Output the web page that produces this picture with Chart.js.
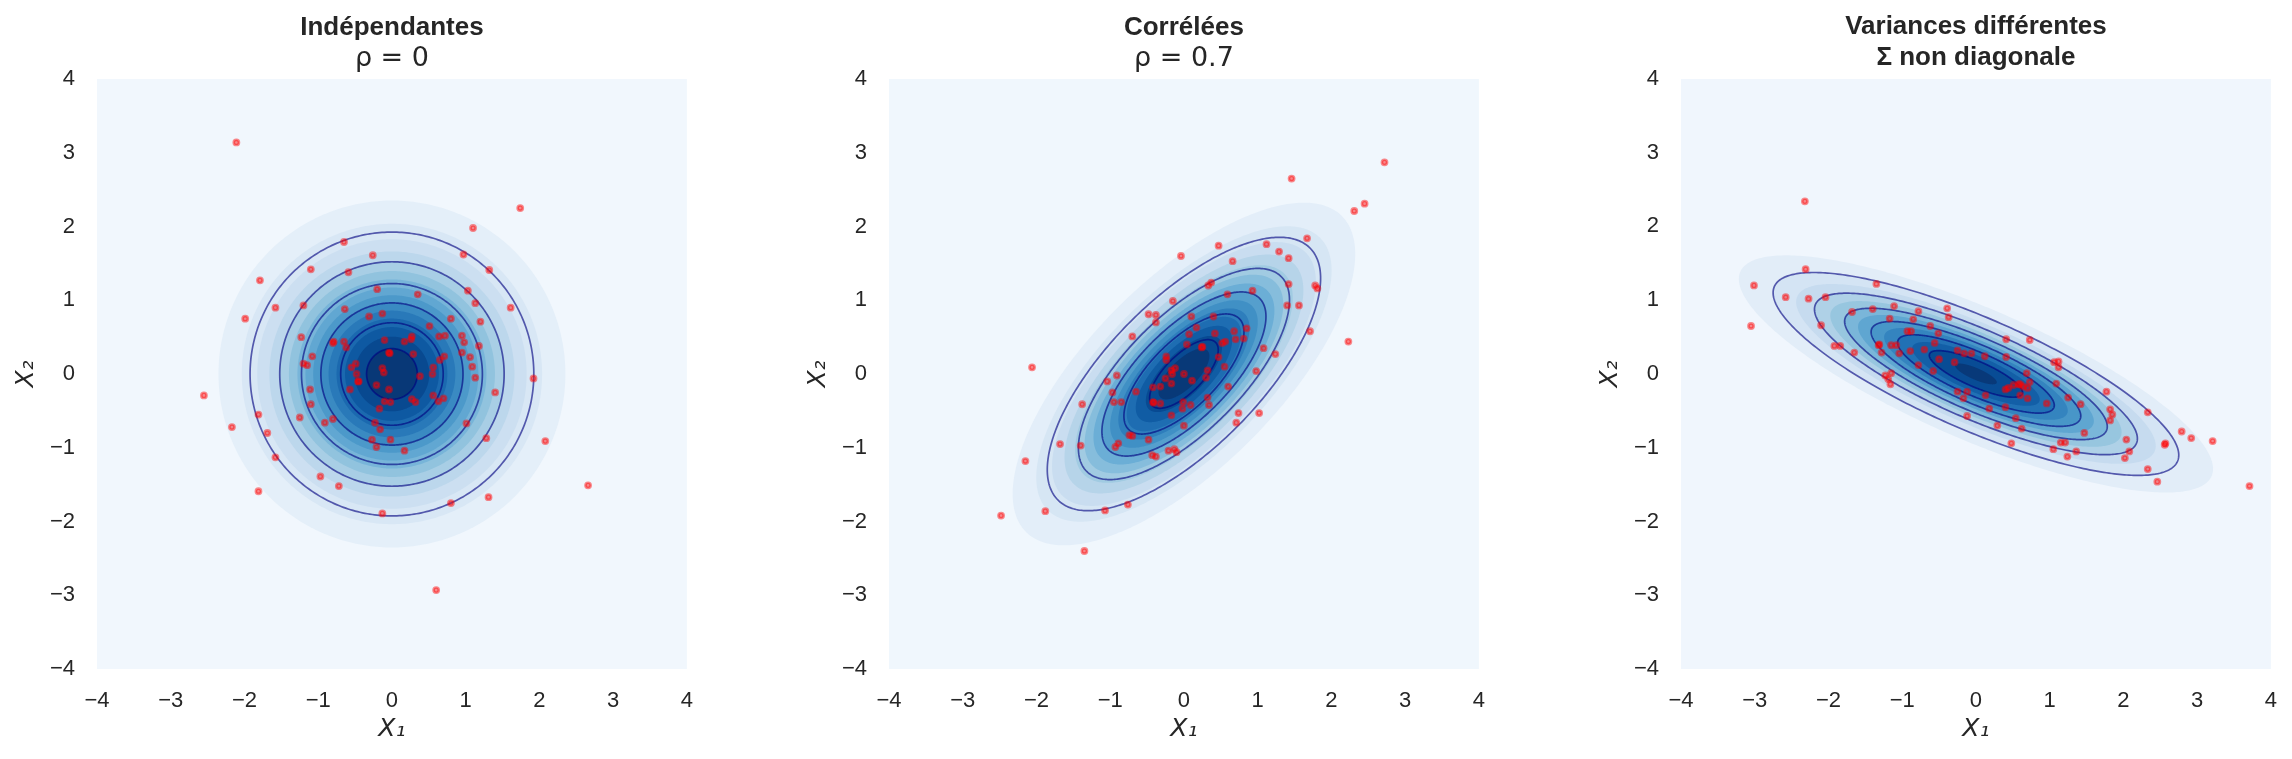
<!DOCTYPE html>
<html>
<head>
<meta charset="utf-8">
<script src="https://cdn.jsdelivr.net/npm/chart.js@4/dist/chart.umd.min.js"></script>
<style>
  body { margin: 0; background: #fff; width: 2292px; height: 759px; position: relative; overflow: hidden; }
  canvas { position: absolute; top: 0; }
</style>
</head>
<body>
<canvas id="c0" width="699" height="759"></canvas>
<canvas id="c1" width="699" height="759"></canvas>
<canvas id="c2" width="699" height="759"></canvas>
<script>
// panel texts
const titles = ['Indépendantes', 'Corrélées', ['Variances différentes', 'Σ non diagonale']];
const subtitles = ['ρ = 0', 'ρ = 0.7', ''];
const tickValues = [-4, -3, -2, -1, 0, 1, 2, 3, 4];

// gaussian parameters of each panel
const means = [[0, 0], [0, 0], [0, 0]];
const covs = [
  [[1, 0], [0, 1]],
  [[1, 0.7], [0.7, 1]],
  [[2, -0.8], [-0.8, 0.5]]
];
// spacing of the filled bands and of the contour lines
const fillSteps = [0.01, 0.015, 0.02];
const lineSteps = [0.025, 0.04, 0.04];

// samples
const indepPts = [[1.74,2.25],[1.10,1.98],[-0.65,1.79],[-0.26,1.61],[0.97,1.62],[1.32,1.41],[-1.10,1.42],[-0.59,1.38],[-1.79,1.27],[1.03,1.13],[-0.20,1.15],[0.35,1.08],[1.13,0.96],[1.61,0.90],[-1.58,0.90],[-1.99,0.75],[-1.20,0.93],[-0.64,0.88],[-0.31,0.78],[-0.13,0.82],[0.80,0.75],[1.20,0.71],[0.51,0.65],[0.64,0.51],[0.72,0.52],[0.27,0.51],[0.26,0.47],[0.17,0.44],[-0.10,0.46],[0.95,0.52],[0.98,0.43],[1.18,0.38],[0.95,0.29],[1.06,0.23],[1.09,0.10],[1.13,-0.05],[0.71,0.24],[0.65,0.19],[0.56,0.09],[0.55,0.00],[0.38,-0.03],[0.29,0.27],[-0.04,0.29],[-0.03,0.28],[-0.80,0.42],[-0.79,0.44],[-0.65,0.44],[-0.62,0.36],[-1.23,0.50],[-1.08,0.24],[-1.20,0.14],[-1.15,0.12],[-0.49,0.14],[-0.55,0.09],[-0.13,0.08],[-0.11,0.02],[-0.48,0.00],[-0.46,-0.10],[-0.45,-0.10],[-0.57,-0.21],[-0.21,-0.15],[-0.04,-0.21],[-1.11,-0.21],[-1.10,-0.41],[-1.25,-0.59],[-0.91,-0.66],[-0.80,-0.61],[-0.17,-0.47],[-0.10,-0.37],[-0.02,-0.38],[0.27,-0.34],[0.32,-0.38],[0.56,-0.29],[0.63,-0.37],[0.70,-0.33],[-0.23,-0.66],[-0.16,-0.75],[-0.27,-0.89],[-0.02,-0.89],[-0.21,-0.99],[0.17,-1.04],[1.01,-0.67],[1.40,-0.25],[1.28,-0.87],[1.92,-0.06],[2.08,-0.91],[2.66,-1.51],[1.31,-1.67],[0.80,-1.75],[-0.13,-1.89],[-0.72,-1.52],[-0.97,-1.39],[-1.58,-1.13],[-1.69,-0.80],[-1.81,-0.55],[-2.17,-0.72],[-1.81,-1.59],[-2.55,-0.29],[-2.11,3.14],[0.60,-2.93]];
const corrPts = [[2.72,2.87],[1.46,2.65],[2.45,2.31],[2.31,2.21],[1.67,1.84],[0.47,1.74],[1.12,1.76],[1.29,1.66],[1.42,1.57],[-0.04,1.60],[0.66,1.53],[0.37,1.24],[0.33,1.20],[1.42,1.22],[1.78,1.20],[1.81,1.16],[0.59,1.08],[0.93,1.13],[-0.15,0.99],[1.40,0.93],[1.56,0.93],[-0.48,0.81],[-0.38,0.80],[-0.38,0.70],[0.10,0.78],[0.40,0.78],[-0.70,0.51],[0.17,0.63],[0.07,0.54],[0.42,0.55],[0.68,0.58],[0.85,0.62],[0.81,0.48],[0.70,0.47],[0.56,0.44],[0.52,0.42],[1.71,0.58],[2.23,0.44],[0.04,0.40],[0.24,0.36],[0.25,0.37],[-0.24,0.24],[-0.24,0.19],[0.47,0.23],[0.55,0.10],[0.32,0.05],[0.30,-0.05],[-0.17,0.05],[-0.12,0.08],[-0.16,0.00],[0.00,0.00],[-0.25,-0.06],[0.11,-0.09],[-0.17,-0.13],[-0.42,-0.18],[-0.32,-0.17],[0.60,-0.17],[0.98,0.04],[1.08,0.35],[1.24,0.27],[-1.04,-0.10],[-0.91,-0.02],[-0.97,-0.25],[-0.65,-0.24],[-2.06,0.09],[-1.38,-0.41],[-0.95,-0.38],[-0.85,-0.38],[-0.42,-0.38],[-0.41,-0.39],[-0.32,-0.40],[-0.01,-0.38],[-0.02,-0.47],[0.09,-0.42],[0.32,-0.32],[0.34,-0.42],[-0.17,-0.56],[0.00,-0.70],[0.74,-0.53],[1.02,-0.53],[0.71,-0.66],[-0.74,-0.83],[-0.70,-0.84],[-0.48,-0.89],[-0.89,-0.94],[-0.93,-0.99],[-1.68,-0.95],[-1.40,-0.97],[-2.15,-1.18],[-0.43,-1.10],[-0.38,-1.12],[-0.21,-1.04],[-0.13,-1.02],[-0.10,-1.06],[-1.88,-1.86],[-1.07,-1.85],[-0.76,-1.77],[-1.35,-2.40],[-2.48,-1.92]];
const diffPts = [[-2.31,1.42],[-3.01,1.20],[-3.05,0.65],[-2.58,1.04],[-2.27,1.02],[-2.04,1.04],[-1.35,1.22],[-2.10,0.66],[-1.68,0.84],[-1.40,0.88],[-1.11,0.92],[-0.78,0.85],[-0.39,0.89],[-0.37,0.77],[-1.17,0.75],[-0.85,0.74],[-0.62,0.65],[-0.51,0.55],[-0.93,0.58],[-0.88,0.58],[-1.92,0.38],[-1.84,0.38],[-1.65,0.29],[-1.32,0.39],[-1.31,0.40],[-1.28,0.29],[-1.15,0.39],[-1.08,0.39],[-1.04,0.28],[-0.89,0.31],[-0.70,0.33],[-0.56,0.42],[-0.25,0.32],[-0.16,0.28],[-0.06,0.28],[0.12,0.24],[-0.50,0.20],[-0.29,0.16],[-0.78,0.12],[-0.58,0.04],[-1.23,-0.02],[-1.15,0.01],[-1.19,-0.07],[-1.16,-0.14],[-0.25,-0.24],[-0.12,-0.24],[-0.17,-0.33],[0.13,-0.29],[0.18,-0.47],[-0.12,-0.57],[0.29,-0.70],[0.41,0.47],[0.73,0.46],[0.41,0.23],[1.06,0.16],[1.12,0.17],[1.12,0.09],[0.69,0.01],[0.73,-0.11],[0.51,-0.15],[0.58,-0.14],[0.60,-0.14],[0.64,-0.17],[0.70,-0.19],[0.40,-0.21],[0.44,-0.19],[0.60,-0.29],[0.70,-0.33],[1.09,-0.13],[1.25,-0.32],[0.96,-0.40],[1.42,-0.41],[1.77,-0.24],[0.40,-0.45],[0.54,-0.60],[0.62,-0.74],[0.48,-0.94],[1.47,-0.80],[1.82,-0.48],[1.85,-0.55],[1.82,-0.63],[2.33,-0.52],[1.15,-0.93],[1.21,-0.93],[1.05,-1.02],[1.36,-1.05],[1.24,-1.12],[2.04,-0.89],[2.08,-1.05],[2.02,-1.14],[2.33,-1.29],[2.46,-1.46],[2.57,-0.94],[2.56,-0.96],[2.79,-0.78],[2.92,-0.87],[3.21,-0.91],[3.71,-1.52],[-2.32,2.34]];
const samples = [indepPts, corrPts, diffPts];

// where each plot box sits on the page
const plotLefts = [97, 889, 1681];
const PLOT_W = 590;

const BLUES = [[247,251,255],[222,235,247],[198,219,239],[158,202,225],[107,174,214],[66,146,198],[33,113,181],[8,81,156],[8,48,107]];
const TEXT = '#262626';

let blues = (t) => {
  let s = Math.max(0, Math.min(1, t)) * (BLUES.length - 1);
  let i = Math.min(Math.floor(s), BLUES.length - 2);
  let f = s - i;
  let c = BLUES[i].map((v, k) => Math.round(v + (BLUES[i + 1][k] - v) * f));
  return `rgb(${c.join(',')})`;
};

let gaussInfo = (cov) => {
  let a = cov[0][0], b = cov[0][1], d = cov[1][1];
  let l11 = Math.sqrt(a), l21 = b / l11;
  return {
    peak: 1 / (2 * Math.PI * Math.sqrt(a * d - b * b)),
    l11, l21, l22: Math.sqrt(d - l21 * l21)
  };
};

// iso-density curve, mapped through the chart scales
let tracePath = (ctx, sx, sy, mean, g, level) => {
  let r = Math.sqrt(2 * Math.log(g.peak / level));
  ctx.beginPath();
  for (let i = 0; i <= 360; i++) {
    let t = i / 360 * 2 * Math.PI;
    let u = r * Math.cos(t), v = r * Math.sin(t);
    let px = sx.getPixelForValue(mean[0] + g.l11 * u);
    let py = sy.getPixelForValue(mean[1] + g.l21 * u + g.l22 * v);
    if (i === 0) ctx.moveTo(px, py); else ctx.lineTo(px, py);
  }
  ctx.closePath();
};

const contourPlugin = {
  id: 'contour',
  beforeDatasetsDraw(chart, args, opts) {
    let {ctx, chartArea: a, scales: {x, y}} = chart;
    let g = gaussInfo(opts.cov);
    let levels = [];
    for (let k = 0; k === 0 || levels[k - 1] < g.peak; k++) levels.push(+(k * opts.fillStep).toFixed(6));
    let top = levels[levels.length - 1];
    ctx.save();
    ctx.beginPath();
    ctx.rect(a.left, a.top, a.width, a.height);
    ctx.clip();
    for (let i = 0; i < levels.length - 1; i++) {
      ctx.fillStyle = blues((levels[i] + levels[i + 1]) / 2 / top);
      if (i === 0) {
        ctx.fillRect(a.left, a.top, a.width, a.height);
      } else {
        tracePath(ctx, x, y, opts.mean, g, levels[i]);
        ctx.fill();
      }
    }
    ctx.strokeStyle = 'rgba(0,0,128,0.62)';
    ctx.lineWidth = 1.7;
    for (let c = opts.lineStep; c < g.peak; c += opts.lineStep) {
      tracePath(ctx, x, y, opts.mean, g, c);
      ctx.stroke();
    }
    ctx.restore();
  }
};

let fmtTick = (v) => v < 0 ? '\u2212' + Math.abs(v) : String(v);

let makeAxis = (label, isX) => ({
  type: 'linear',
  min: -4,
  max: 4,
  afterBuildTicks: (s) => { s.ticks = tickValues.map((v) => ({value: v})); },
  afterFit: (s) => { if (isX) s.height = 90; else s.width = 97; },
  grid: {display: false, drawTicks: false},
  border: {display: false},
  ticks: {
    color: TEXT,
    padding: isX ? 19 : 22,
    font: {family: 'Liberation Sans, Arial, sans-serif', size: 22},
    callback: fmtTick,
  },
  title: {
    display: true,
    text: label,
    color: TEXT,
    font: {family: 'DejaVu Sans', size: 25, style: 'italic', lineHeight: 1.2},
    padding: isX ? {top: 0, bottom: 15} : {top: 11, bottom: 0},
  },
});

let buildChart = (p) => {
  let twoLine = Array.isArray(titles[p]);
  return new Chart(document.getElementById('c' + p), {
    type: 'scatter',
    data: {
      datasets: [{
        data: samples[p].map(([x, y]) => ({x, y})),
        pointRadius: 2.6,
        pointBorderWidth: 2.6,
        backgroundColor: 'rgba(255,0,0,0.45)',
        borderColor: 'rgba(255,0,0,0.45)',
      }],
    },
    options: {
      responsive: false,
      maintainAspectRatio: false,
      animation: false,
      devicePixelRatio: 1,
      layout: {padding: 0},
      scales: {x: makeAxis('X\u2081', true), y: makeAxis('X\u2082', false)},
      plugins: {
        legend: {display: false},
        tooltip: {enabled: false},
        title: {
          display: true,
          fullSize: false,
          text: titles[p],
          color: TEXT,
          font: {family: 'Liberation Sans, Arial, sans-serif', size: 26, weight: 'bold', lineHeight: twoLine ? 1.19 : 1},
          padding: twoLine ? {top: 11, bottom: 6} : {top: 15, bottom: 0},
        },
        subtitle: {
          display: !twoLine,
          fullSize: false,
          text: subtitles[p],
          color: TEXT,
          font: {family: 'DejaVu Sans', size: 27, lineHeight: 1},
          padding: {top: 4, bottom: 7},
        },
        contour: {
          mean: means[p],
          cov: covs[p],
          fillStep: fillSteps[p],
          lineStep: lineSteps[p],
        },
      },
    },
    plugins: [contourPlugin],
  });
};

for (let p = 0; p < 3; p++) {
  let canvas = document.getElementById('c' + p);
  let chart = buildChart(p);
  // make the plot box exactly PLOT_W wide, whatever the layout padding turned out to be
  for (let n = 0; n < 3; n++) {
    let dw = Math.round(PLOT_W - chart.chartArea.width);
    if (dw === 0) break;
    chart.destroy();
    canvas.width = canvas.width + dw;
    canvas.height = 759;
    chart = buildChart(p);
  }
  canvas.style.left = (plotLefts[p] - chart.chartArea.left) + 'px';
}
</script>
</body>
</html>
